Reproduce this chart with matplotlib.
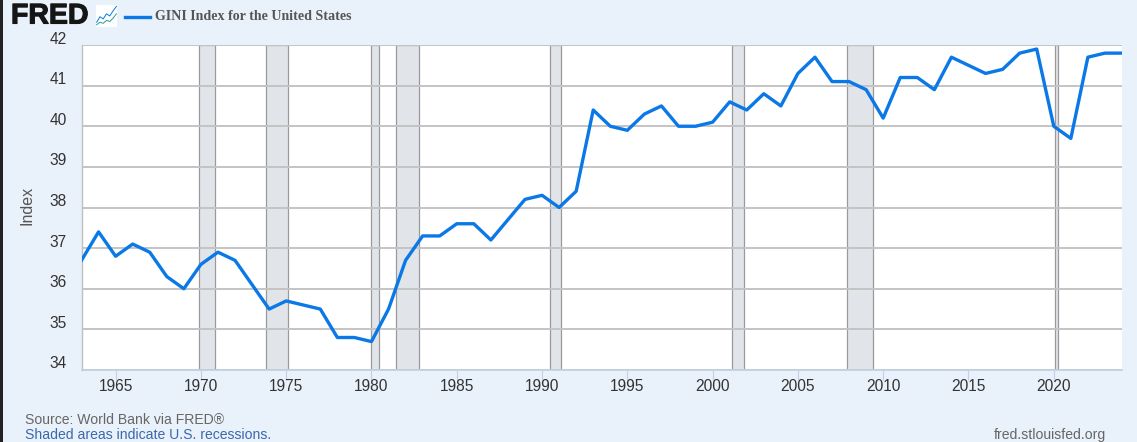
import matplotlib
matplotlib.use("Agg")
import matplotlib.pyplot as plt
from matplotlib.patches import Rectangle
import matplotlib.patheffects as pe

years = list(range(1963, 2025))
gini = [36.7, 37.4, 36.8, 37.1, 36.9, 36.3, 36.0, 36.6, 36.9, 36.7,
        36.1, 35.5, 35.7, 35.6, 35.5, 34.8, 34.8, 34.7, 35.5, 36.7,
        37.3, 37.3, 37.6, 37.6, 37.2, 37.7, 38.2, 38.3, 38.0, 38.4,
        40.4, 40.0, 39.9, 40.3, 40.5, 40.0, 40.0, 40.1, 40.6, 40.4,
        40.8, 40.5, 41.3, 41.7, 41.1, 41.1, 40.9, 40.2, 41.2, 41.2,
        40.9, 41.7, 41.5, 41.3, 41.4, 41.8, 41.9, 40.0, 39.7, 41.7,
        41.8, 41.8]
rec_start = [1969.86, 1973.82, 1980.0, 1981.45, 1990.48, 2001.14, 2007.87, 2020.08]
rec_end = [1970.82, 1975.12, 1980.46, 1982.8, 1991.13, 2001.82, 2009.38, 2020.24]
y_ticks = [34, 35, 36, 37, 38, 39, 40, 41, 42]
x_ticks = list(range(1965, 2025, 5))
title = "GINI Index for the United States"

W, H = 1137, 442
BG = "#e9f1fa"
fig = plt.figure(figsize=(W / 100, H / 100), dpi=100, facecolor=BG)
plt.rcParams["font.family"] = ["Liberation Sans", "DejaVu Sans"]


def px_box(x0, y0, x1, y1):
    return [x0 / W, 1 - y1 / H, (x1 - x0) / W, (y1 - y0) / H]


ax = fig.add_axes(px_box(81.5, 45, 1122, 370))
ax.set_xlim(1963, 2024)
ax.set_ylim(34, 42)
ax.set_facecolor("white")
for s, e in zip(rec_start, rec_end):
    ax.axvspan(s, e, facecolor="#e1e5e9", edgecolor="#9a9a9a", linewidth=0.9, zorder=1)
ax.set_yticks(y_ticks)
ax.grid(axis="y", color="#c4c4c4", linewidth=1.4, zorder=2)
ax.plot(years, gini, color="#0a78e6", linewidth=2.4, solid_joinstyle="round",
        clip_on=True, zorder=3)
for side in ["top", "right"]:
    ax.spines[side].set_visible(False)
ax.spines["left"].set_color("#c0c0c0")
ax.spines["left"].set_linewidth(1.0)
ax.spines["bottom"].set_color("#c0cfe0")
ax.spines["bottom"].set_linewidth(1.2)
ax.set_xticks(x_ticks)
ax.tick_params(axis="x", length=7, width=0.8, color="#c0d0e6", labelsize=11.2,
               labelcolor="#333333", pad=-0.5)
ax.tick_params(axis="y", length=0, labelleft=False)
for v in y_ticks:
    ax.annotate(str(v), xy=(0, v), xycoords=("axes fraction", "data"),
                xytext=(-15, 6), textcoords="offset pixels", ha="right", va="center",
                fontsize=11.2, color="#333333")
fig.text(27 / W, 1 - 205.5 / H, "Index", rotation=90, ha="center", va="center",
         fontsize=11.5, color="#555555")

# header
fig.text(11 / W, 1 - 16.5 / H, "FRED", ha="left", va="center", fontsize=20.5,
         fontweight="bold", color="#151515", fontfamily="Liberation Sans",
         path_effects=[pe.withStroke(linewidth=0.8, foreground="#151515")])
fig.add_artist(plt.Line2D([125 / W, 150 / W], [1 - 17 / H, 1 - 17 / H],
                          color="#0a78e6", linewidth=2.4))
fig.text(155 / W, 1 - 16.5 / H, title, ha="left", va="center", fontsize=10.1,
         fontweight="bold", color="#555555", fontfamily="Liberation Serif")
icon = fig.add_axes(px_box(96, 5, 117, 27))
icon.set_xlim(-0.2, 6.2)
icon.set_ylim(0, 6)
icon.set_facecolor("white")
icon.set_xticks([])
icon.set_yticks([])
for s in icon.spines.values():
    s.set_visible(False)
icon_x = [0, 1, 2, 3, 4, 5, 6]
icon_blue = [1.3, 2.8, 2.2, 3.6, 3.0, 4.4, 5.6]
icon_green = [0.6, 1.3, 1.0, 1.8, 1.5, 2.4, 3.6]
icon.plot(icon_x, icon_blue, color="#0a78e6", linewidth=0.7)
icon.plot(icon_x, icon_green, color="#2a9d8f", linewidth=0.7)

# footer
fig.text(25 / W, 1 - 420 / H, "Source: World Bank via FRED®", ha="left", va="center",
         fontsize=10.1, color="#666666")
fig.text(25 / W, 1 - 435 / H, "Shaded areas indicate U.S. recessions.", ha="left", va="center",
         fontsize=10.1, color="#3a69ad")
fig.text(1106 / W, 1 - 435 / H, "fred.stlouisfed.org", ha="right", va="center",
         fontsize=10.1, color="#666666")

# dark window edge at left
fig.add_artist(Rectangle((0, 0), 2.5 / W, 1, transform=fig.transFigure,
                         facecolor="#222222", edgecolor="none"))

fig.savefig("out.png", dpi=100, facecolor=BG)
